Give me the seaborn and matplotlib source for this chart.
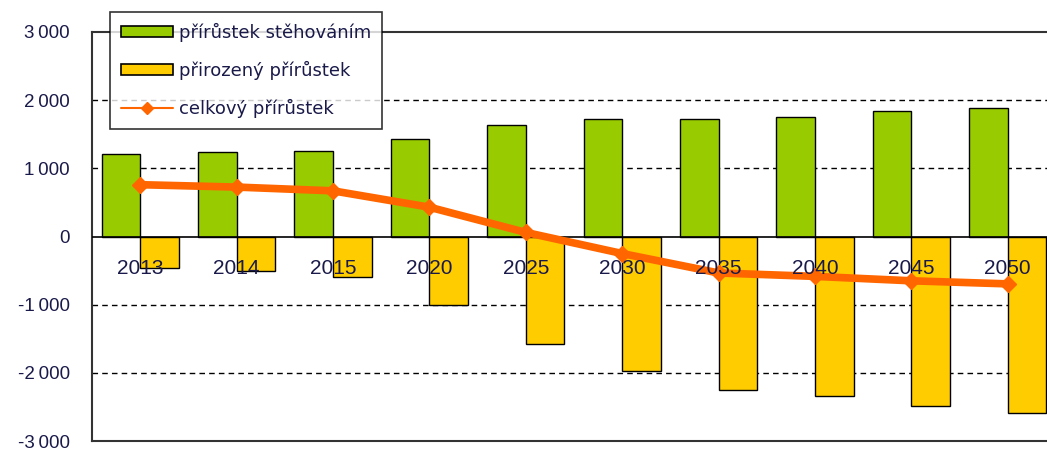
import numpy as np
import pandas as pd
import seaborn as sns
import matplotlib.pyplot as plt
from matplotlib.lines import Line2D
from matplotlib.patches import Patch

years = ['2013', '2014', '2015', '2020', '2025', '2030', '2035', '2040', '2045', '2050']
migration = [1215, 1235, 1260, 1430, 1640, 1730, 1720, 1760, 1840, 1890]
natural = [-455, -510, -590, -1000, -1580, -1980, -2255, -2345, -2490, -2585]
total = [760, 725, 670, 430, 60, -250, -535, -585, -650, -695]

lbl_mig = 'přírůstek stěhováním'
lbl_nat = 'přirozený přírůstek'
lbl_tot = 'celkový přírůstek'
yticks = [-3000, -2000, -1000, 0, 1000, 2000, 3000]

green = '#99CC00'
yellow = '#FFCC00'
orange = '#FF6600'
txt = '#1a1a4a'

df = pd.DataFrame({
    'rok': years * 2,
    'hodnota': migration + natural,
    'serie': [lbl_mig] * len(years) + [lbl_nat] * len(years),
})

sns.set_style('white')
plt.rcParams['font.family'] = ['DejaVu Sans']

fig = plt.figure(figsize=(10.47, 4.53), dpi=100)
ax = fig.add_axes([92 / 1047, 12 / 453, 964 / 1047, 409 / 453])

sns.barplot(data=df, x='rok', y='hodnota', hue='serie', order=years,
            palette=[green, yellow], edgecolor='black', linewidth=1,
            width=0.8, saturation=1, legend=False, ax=ax, zorder=2)
ax.plot(range(len(years)), total, color=orange, lw=5.5, marker='D',
        markersize=8, zorder=4, solid_joinstyle='round')

ax.set_ylim(-3000, 3000)
ax.set_xlim(-0.5, len(years) - 0.5)
for y in [2000, 1000, -1000, -2000]:
    ax.axhline(y, color='black', lw=1, ls=(0, (4, 3)), zorder=1)
ax.axhline(0, color='black', lw=1.2, zorder=3)

for s in ['top', 'bottom', 'left']:
    ax.spines[s].set_visible(True)
    ax.spines[s].set_color('#333333')
    ax.spines[s].set_linewidth(1.5)
ax.spines['right'].set_visible(False)

ax.set_yticks(yticks)
ax.set_yticklabels([f'{v:,}'.replace(',', '\u2009') for v in yticks],
                   fontsize=13.5, color=txt, family=['Liberation Sans'])
ax.tick_params(axis='y', length=0, pad=16)
ax.set_xticks([])
ax.set_xlabel('')
ax.set_ylabel('')

for i, yr in enumerate(years):
    ax.annotate(yr, (i, 0), xytext=(0, -30), textcoords='offset points',
                ha='center', va='bottom', fontsize=15, color=txt,
                family=['Liberation Sans'], zorder=5)

handles = [
    Patch(facecolor=green, edgecolor='black', linewidth=1.2),
    Patch(facecolor=yellow, edgecolor='black', linewidth=1.2),
    Line2D([], [], color=orange, lw=1.5, marker='D', markersize=6),
]
leg = fig.legend(handles, [lbl_mig, lbl_nat, lbl_tot], loc='upper left',
                 bbox_to_anchor=(110 / 1047, 1 - 12 / 453), fontsize=13,
                 frameon=True, fancybox=False, edgecolor='black',
                 handlelength=2.9, handleheight=0.6, handletextpad=0.3,
                 labelspacing=1.05, borderpad=0.6, borderaxespad=0)
leg.get_frame().set_linewidth(1.2)
for t in leg.get_texts():
    t.set_color(txt)

fig.savefig('out.png', dpi=100)
